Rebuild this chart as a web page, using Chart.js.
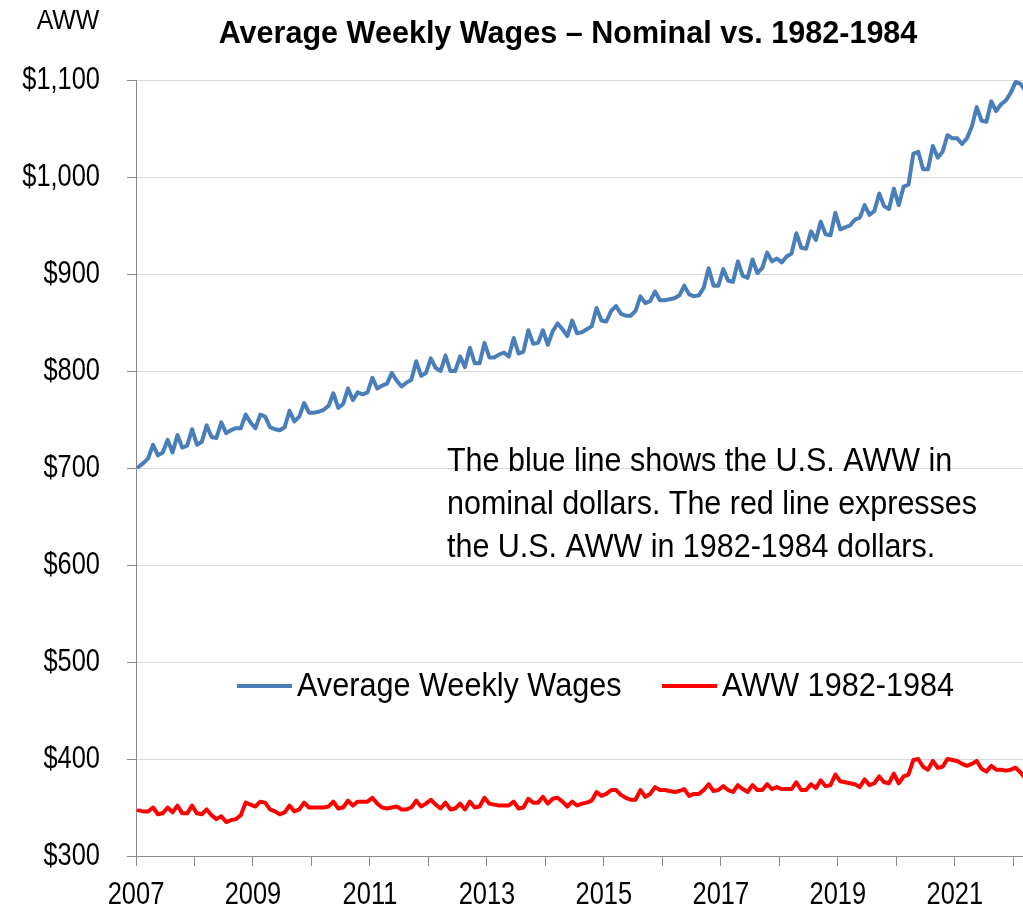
<!DOCTYPE html>
<html>
<head>
<meta charset="utf-8">
<script src="https://cdn.jsdelivr.net/npm/chart.js@4.4.0/dist/chart.umd.min.js"></script>
<style>
  html, body { margin: 0; padding: 0; background: #ffffff; }
  #contenedor { width: 1023px; height: 912px; position: relative; }
</style>
</head>
<body>
<div id="contenedor"><canvas id="graficoSalarios"></canvas></div>
<script>
// Datos mensuales, enero 2007 - marzo 2022
const anioInicio = 2007;
const anioFin = 2022;
const aniosConEtiqueta = [2007, 2009, 2011, 2013, 2015, 2017, 2019, 2021];
const valoresEjeY = [300, 400, 500, 600, 700, 800, 900, 1000, 1100];

const salarioNominal = [
  701, 705, 710, 724, 713, 716, 729, 716, 734, 721,
  723, 740, 724, 727, 744, 732, 731, 747, 736, 739,
  741, 741, 755, 747, 741, 755, 753, 742, 740, 739,
  742, 759, 748, 753, 767, 757, 757, 758, 760, 764,
  777, 762, 766, 782, 770, 778, 776, 778, 793, 782,
  785, 787, 798, 790, 784, 788, 791, 810, 795, 798,
  813, 803, 800, 816, 800, 800, 815, 804, 824, 808,
  808, 829, 814, 814, 817, 819, 815, 834, 818, 820,
  842, 828, 829, 842, 827, 841, 849, 843, 836, 852,
  839, 840, 843, 846, 865, 852, 851, 862, 867, 859,
  857, 857, 862, 877, 870, 872, 882, 873, 873, 874,
  875, 878, 888, 879, 877, 878, 886, 906, 888, 888,
  905, 893, 892, 913, 898, 896, 915, 901, 906, 922,
  913, 916, 912, 918, 921, 942, 927, 926, 944, 935,
  954, 941, 940, 963, 946, 948, 950, 956, 958, 971,
  961, 965, 983, 970, 967, 988, 971, 990, 992, 1024,
  1026, 1008, 1008, 1032, 1020, 1026, 1043, 1040, 1040, 1034,
  1040, 1052, 1072, 1058, 1057, 1078, 1068, 1075, 1079, 1087,
  1098, 1096, 1089
];

const salarioReal = [
  347, 346, 346, 350, 343, 344, 350, 345, 352, 344,
  344, 352, 344, 343, 348, 342, 338, 341, 335, 337,
  338, 342, 355, 353, 351, 356, 355, 348, 346, 343,
  345, 352, 346, 348, 355, 350, 350, 350, 350, 351,
  356, 349, 350, 357, 352, 356, 356, 356, 360, 354,
  350, 349, 350, 351, 348, 348, 350, 357, 351, 354,
  358, 353, 349, 355, 348, 349, 354, 348, 356, 350,
  351, 360, 354, 353, 352, 352, 352, 356, 349, 350,
  359, 355, 355, 361, 354, 359, 360, 356, 351, 356,
  352, 354, 355, 357, 366, 362, 364, 368, 368, 363,
  360, 358, 358, 368, 361, 364, 371, 368, 368, 367,
  366, 367, 369, 362, 364, 364, 368, 374, 367, 368,
  372, 368, 366, 373, 369, 366, 373, 368, 368, 374,
  369, 371, 369, 369, 369, 376, 368, 368, 374, 370,
  378, 372, 373, 384, 377, 376, 375, 374, 371, 379,
  373, 375, 382, 376, 375, 385, 375, 382, 384, 399,
  400, 392, 389, 398, 391, 392, 400, 399, 398, 395,
  393, 395, 398, 390, 387, 393, 389, 389, 388, 389,
  391, 386, 380
];

const titulo = "Average Weekly Wages \u2013 Nominal vs. 1982-1984";
const nota = [
  "The blue line shows the U.S. AWW in",
  "nominal dollars. The red line expresses",
  "the U.S. AWW in 1982-1984 dollars."
];

// Arial Narrow no esta instalada: se usa Liberation Sans comprimida
const fuente = "'Liberation Sans', Arial, sans-serif";
const colorAzul = "#4a7ebb";
const colorRojo = "#ff0000";

// cada punto al medio de su mes
const puntos = (serie) => serie.map((v, i) => ({ x: anioInicio + (i + 0.5) / 12, y: v }));

function texto(ctx, str, x, y, size, bold, align, angosto) {
  ctx.save();
  ctx.translate(x, y);
  ctx.scale(angosto, 1);
  ctx.font = (bold ? "bold " : "") + size + "px " + fuente;
  ctx.textAlign = align;
  ctx.textBaseline = "middle";
  ctx.fillStyle = "#000";
  ctx.fillText(str, 0, 0);
  ctx.restore();
}

// Textos: etiquetas de ejes, titulo, "AWW", nota y leyenda
const textosPlugin = {
  id: "textos",
  afterDraw(chart) {
    const ctx = chart.ctx;
    const ex = chart.scales.x;
    const ey = chart.scales.y;

    valoresEjeY.forEach((v) => {
      texto(ctx, "$" + v.toLocaleString("en-US"), ey.right - 36, ey.getPixelForValue(v), 31, false, "right", 0.82);
    });
    aniosConEtiqueta.forEach((a) => {
      texto(ctx, String(a), ex.getPixelForValue(a), ex.top + 39, 31, false, "center", 0.82);
    });

    texto(ctx, titulo, 568, 34, 32, true, "center", 0.955);
    texto(ctx, "AWW", 68, 21, 28, false, "center", 0.89);
    nota.forEach((linea, k) => texto(ctx, linea, 447, 462 + k * 43, 34, false, "left", 0.896));

    // leyenda
    const posiciones = [237, 662];
    chart.data.datasets.forEach((ds, k) => {
      const x0 = posiciones[k];
      ctx.save();
      ctx.strokeStyle = ds.borderColor;
      ctx.lineWidth = 4;
      ctx.beginPath();
      ctx.moveTo(x0, 686);
      ctx.lineTo(x0 + 55, 686);
      ctx.stroke();
      ctx.restore();
      texto(ctx, ds.label, x0 + 60, 687, 33, false, "left", 0.928);
    });
  }
};

new Chart(document.getElementById("graficoSalarios"), {
  type: "line",
  data: {
    datasets: [
      {
        label: "Average Weekly Wages",
        data: puntos(salarioNominal),
        borderColor: colorAzul,
        borderWidth: 4,
        pointRadius: 0,
        tension: 0,
        borderJoinStyle: "round",
        borderCapStyle: "round",
      },
      {
        label: "AWW 1982-1984",
        data: puntos(salarioReal),
        borderColor: colorRojo,
        borderWidth: 4,
        pointRadius: 0,
        tension: 0,
        borderJoinStyle: "round",
        borderCapStyle: "round",
      },
    ],
  },
  options: {
    responsive: true,
    maintainAspectRatio: false,
    animation: false,
    layout: { padding: { top: 80, right: 0, left: 0, bottom: 0 } },
    plugins: {
      legend: { display: false },
      title: { display: false },
      tooltip: { enabled: false },
    },
    scales: {
      x: {
        type: "linear",
        min: anioInicio,
        max: anioFin + 2 / 12,
        afterBuildTicks: (escala) => {
          const t = [];
          for (let a = anioInicio; a <= anioFin; a++) t.push({ value: a });
          escala.ticks = t;
        },
        afterFit: (escala) => { escala.height = 56; },
        border: { color: "#898989", width: 1 },
        grid: {
          drawOnChartArea: false,
          color: "#898989",
          tickLength: 10,
        },
        ticks: { display: false },
      },
      y: {
        min: 300,
        max: 1100,
        afterFit: (escala) => { escala.width = 136; },
        border: { color: "#898989", width: 1 },
        grid: {
          color: "#d9d9d9",
          lineWidth: 1,
          tickColor: "#898989",
          tickLength: 9,
        },
        ticks: { display: false, stepSize: 100 },
      },
    },
  },
  plugins: [textosPlugin],
});
</script>
</body>
</html>
